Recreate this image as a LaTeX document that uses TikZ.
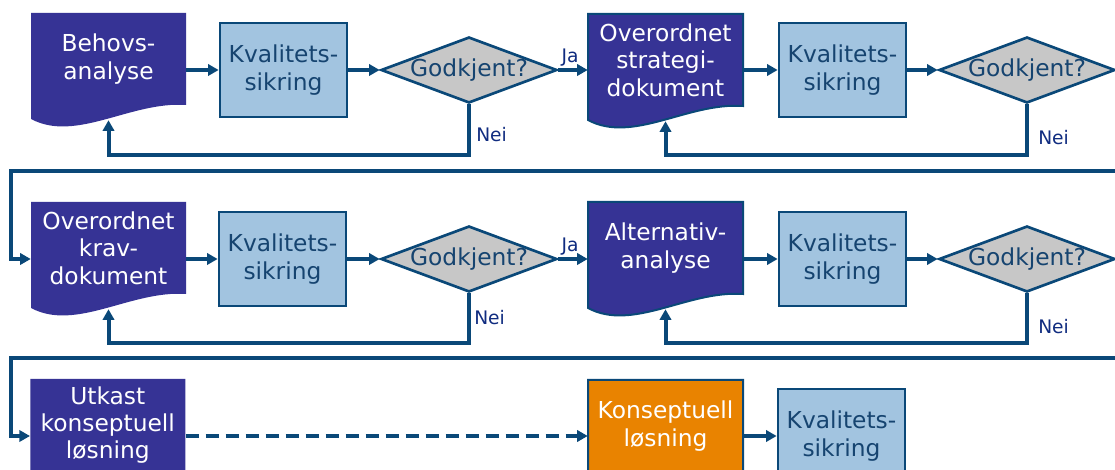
\documentclass[tikz,border=0pt]{standalone}
\usepackage{fontspec}
\setmainfont{DejaVu Sans}
\usetikzlibrary{shapes.geometric,arrows.meta,calc}
\definecolor{docblue}{RGB}{54,51,149}
\definecolor{qfill}{RGB}{162,196,224}
\definecolor{lineblue}{RGB}{10,72,120}
\definecolor{txtblue}{RGB}{22,68,112}
\definecolor{dgray}{RGB}{199,199,199}
\definecolor{neiblue}{RGB}{16,44,128}
\definecolor{orng}{RGB}{233,131,0}
\newcommand\bxfont{\fontsize{17.5}{20.5}\selectfont}
\newcommand\sxfont{\fontsize{14}{16}\selectfont}
% document shape centred at (#1,#2), 155 x 92 px plus wave
\newcommand\docfill[3]{%
  \path[#3] (#1-77.5,#2-46) -- (#1+77.5,#2-46) -- (#1+77.5,#2+46)
    .. controls (#1+22.5,#2+42) and (#1-32.5,#2+84) .. (#1-77.5,#2+60) -- cycle;}
\tikzset{
  docnode/.style={minimum width=116.25pt, minimum height=69pt, inner sep=0pt,
    align=center, text=white, font=\bxfont},
  qnode/.style={draw=lineblue, line width=2pt, fill=qfill, minimum width=95.25pt,
    minimum height=70.5pt, inner sep=0pt, align=center, text=txtblue, font=\bxfont},
  dia/.style={diamond, draw=lineblue, line width=2pt, fill=dgray,
    minimum width=132pt, minimum height=49.5pt, inner sep=0pt},
  dtext/.style={text=txtblue, font=\bxfont, inner sep=0pt},
  conn/.style={draw=lineblue, line width=3pt, -{Triangle[length=8pt,width=8.5pt]}},
  plainline/.style={draw=lineblue, line width=3pt},
  lbl/.style={text=neiblue, font=\sxfont, inner sep=0pt, anchor=west},
  docA/.style={fill=docblue},
  docB/.style={fill=docblue, draw=lineblue, line width=1.5pt},
  docC/.style={fill=orng, draw=lineblue, line width=1.5pt}
}
\begin{document}
\begin{tikzpicture}[x=0.75pt,y=-0.75pt]
\useasboundingbox (0,0) rectangle (1115,470);
\clip (0,0) rectangle (1115,470);
\fill[white] (0,0) rectangle (1115,470);

% document shapes
\docfill{108.5}{59}{docA}
\docfill{665.5}{60}{docB}
\docfill{108.5}{248}{docA}
\docfill{665.5}{248}{docB}
\docfill{107.75}{425}{docA}
\docfill{665.5}{426}{docC}

% row 1
\node[docnode] (beh) at (108.5,59) {Behovs-\\analyse};
\node[qnode] (kv1) at (283.5,70) {Kvalitets-\\sikring};
\node[dia] (d1) at (469,70) {};
\node[dtext] (d1t) at (d1) {Godkjent?};
\node[docnode] (str) at (665.5,60) {Overordnet\\strategi-\\dokument};
\node[qnode] (kv2) at (842.5,70) {Kvalitets-\\sikring};
\node[dia] (d2) at (1027,70) {};
\node[dtext] (d2t) at (d2) {Godkjent?};

% row 2
\node[docnode] (krav) at (108.5,248) {Overordnet\\krav-\\dokument};
\node[qnode] (kv3) at (282.5,259) {Kvalitets-\\sikring};
\node[dia] (d3) at (469,259) {};
\node[dtext] (d3t) at (d3) {Godkjent?};
\node[docnode] (alt) at (665.5,248) {Alternativ-\\analyse};
\node[qnode] (kv4) at (842.5,259) {Kvalitets-\\sikring};
\node[dia] (d4) at (1027,259) {};
\node[dtext] (d4t) at (d4) {Godkjent?};

% row 3
\node[docnode] (utk) at (107.75,425) {Utkast\\konseptuell\\løsning};
\node[docnode] (kon) at (665.5,426) {Konseptuell\\løsning};
\node[qnode] (kv5) at (841.5,436) {Kvalitets-\\sikring};

% turning points
\coordinate (r1) at (1140,171);
\coordinate (l1) at (11,171);
\coordinate (r2) at (1140,358);
\coordinate (l2) at (11,358);

% row 1 connectors
\draw[conn] (beh.east |- kv1.west) -- (kv1.west);
\draw[conn] (kv1.east) -- (d1.west);
\draw[conn] (d1.east) -- (str.west |- d1.east);
\draw[conn] (str.east |- kv2.west) -- (kv2.west);
\draw[conn] (kv2.east) -- (d2.west);
\draw[conn] (d1.south) -- ++(0,51) -| ($(beh.south)+(0,15)$);
\draw[conn] (d2.south) -- ++(0,51) -| ($(str.south)+(0,15)$);
\draw[conn] (d2.east) -| (r1) -- (l1) |- (krav.west |- kv3.west);

% row 2 connectors
\draw[conn] (krav.east |- kv3.west) -- (kv3.west);
\draw[conn] (kv3.east) -- (d3.west);
\draw[conn] (d3.east) -- (alt.west |- d3.east);
\draw[conn] (alt.east |- kv4.west) -- (kv4.west);
\draw[conn] (kv4.east) -- (d4.west);
\draw[conn] (d3.south) -- ++(0,50) -| ($(krav.south)+(0,15)$);
\draw[conn] (d4.south) -- ++(0,50) -| ($(alt.south)+(0,15)$);
\draw[conn] (d4.east) -| (r2) -- (l2) |- (utk.west |- kv5.west);

% row 3 connectors
\draw[conn, dash pattern=on 10pt off 5pt] (utk.east |- kv5.west) -- (kon.west |- kv5.west);
\draw[conn] (kon.east |- kv5.west) -- (kv5.west);

% labels
\node[lbl] (ja1) at ($(d1.east)+(3,-12)$) {Ja};
\node[lbl] (ja2) at ($(d3.east)+(3,-12)$) {Ja};
\node[lbl] (nei1) at ($(d1.south)+(7,30)$) {Nei};
\node[lbl] (nei2) at ($(d2.south)+(11,33)$) {Nei};
\node[lbl] (nei3) at ($(d3.south)+(5,24)$) {Nei};
\node[lbl] (nei4) at ($(d4.south)+(11,33)$) {Nei};
\end{tikzpicture}
\end{document}
